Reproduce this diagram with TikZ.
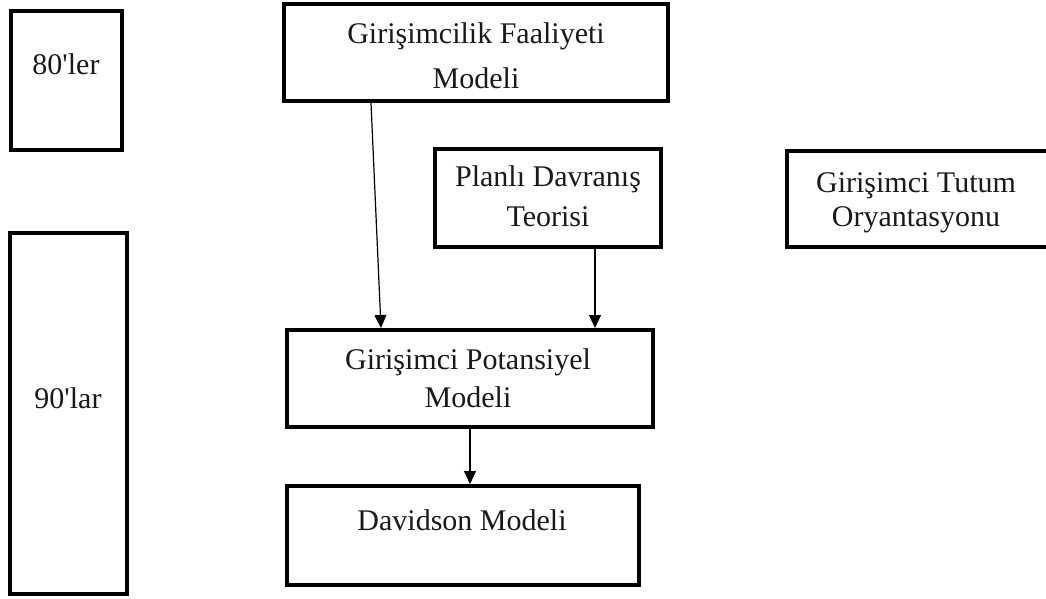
\documentclass[tikz,border=0pt]{standalone}
\usetikzlibrary{arrows.meta}
\font\lserif="Liberation Serif" at 30pt
\begin{document}
\begin{tikzpicture}[x=1pt,y=-1pt,
  box/.style={draw, line width=4pt, rectangle, inner sep=0pt},
  lbl/.style={font=\lserif, anchor=base, inner sep=0pt, align=center, text=black!90},
  arr/.style={-{Triangle[length=13pt,width=12pt]}, line width=1.2pt}]
\useasboundingbox (0,0) rectangle (1046,599);
% boxes
\node[box, minimum width=111pt, minimum height=139pt] (y80) at (66.5,80.5) {};
\node[box, minimum width=117pt, minimum height=361pt] (y90) at (68.5,413.5) {};
\node[box, minimum width=384pt, minimum height=97pt] (gfm) at (476,52.5) {};
\node[box, minimum width=226pt, minimum height=98pt] (pdt) at (548,198) {};
\node[box, minimum width=263pt, minimum height=96pt] (gto) at (918.5,199) {};
\node[box, minimum width=366pt, minimum height=97pt] (gpm) at (470,378.5) {};
\node[box, minimum width=352pt, minimum height=99pt] (dav) at (463,535.5) {};
% labels
\node[lbl] (y80t) at (66,75) {80'ler};
\node[lbl] (y90t) at (68,408) {90'lar};
\node[lbl] (gfmt) at (476,89) {Girişimcilik Faaliyeti\\[17pt]Modeli};
\node[lbl] (pdtt) at (548,226) {Planlı Davranış\\[12pt]Teorisi};
\node[lbl] (gtot) at (916,226) {Girişimci Tutum\\[6pt]Oryantasyonu};
\node[lbl] (gpmt) at (468,407) {Girişimci Potansiyel\\[9pt]Modeli};
\node[lbl] (davt) at (462,530) {Davidson Modeli};
% arrows
\draw[arr] ([xshift=89pt]gfm.south west) -- ([xshift=96pt]gpm.north west);
\draw[arr] ([xshift=47pt]pdt.south) -- ([xshift=47pt]pdt.south |- gpm.north);
\draw[arr] (gpm.south) -- (gpm.south |- dav.north);
\end{tikzpicture}
\end{document}
